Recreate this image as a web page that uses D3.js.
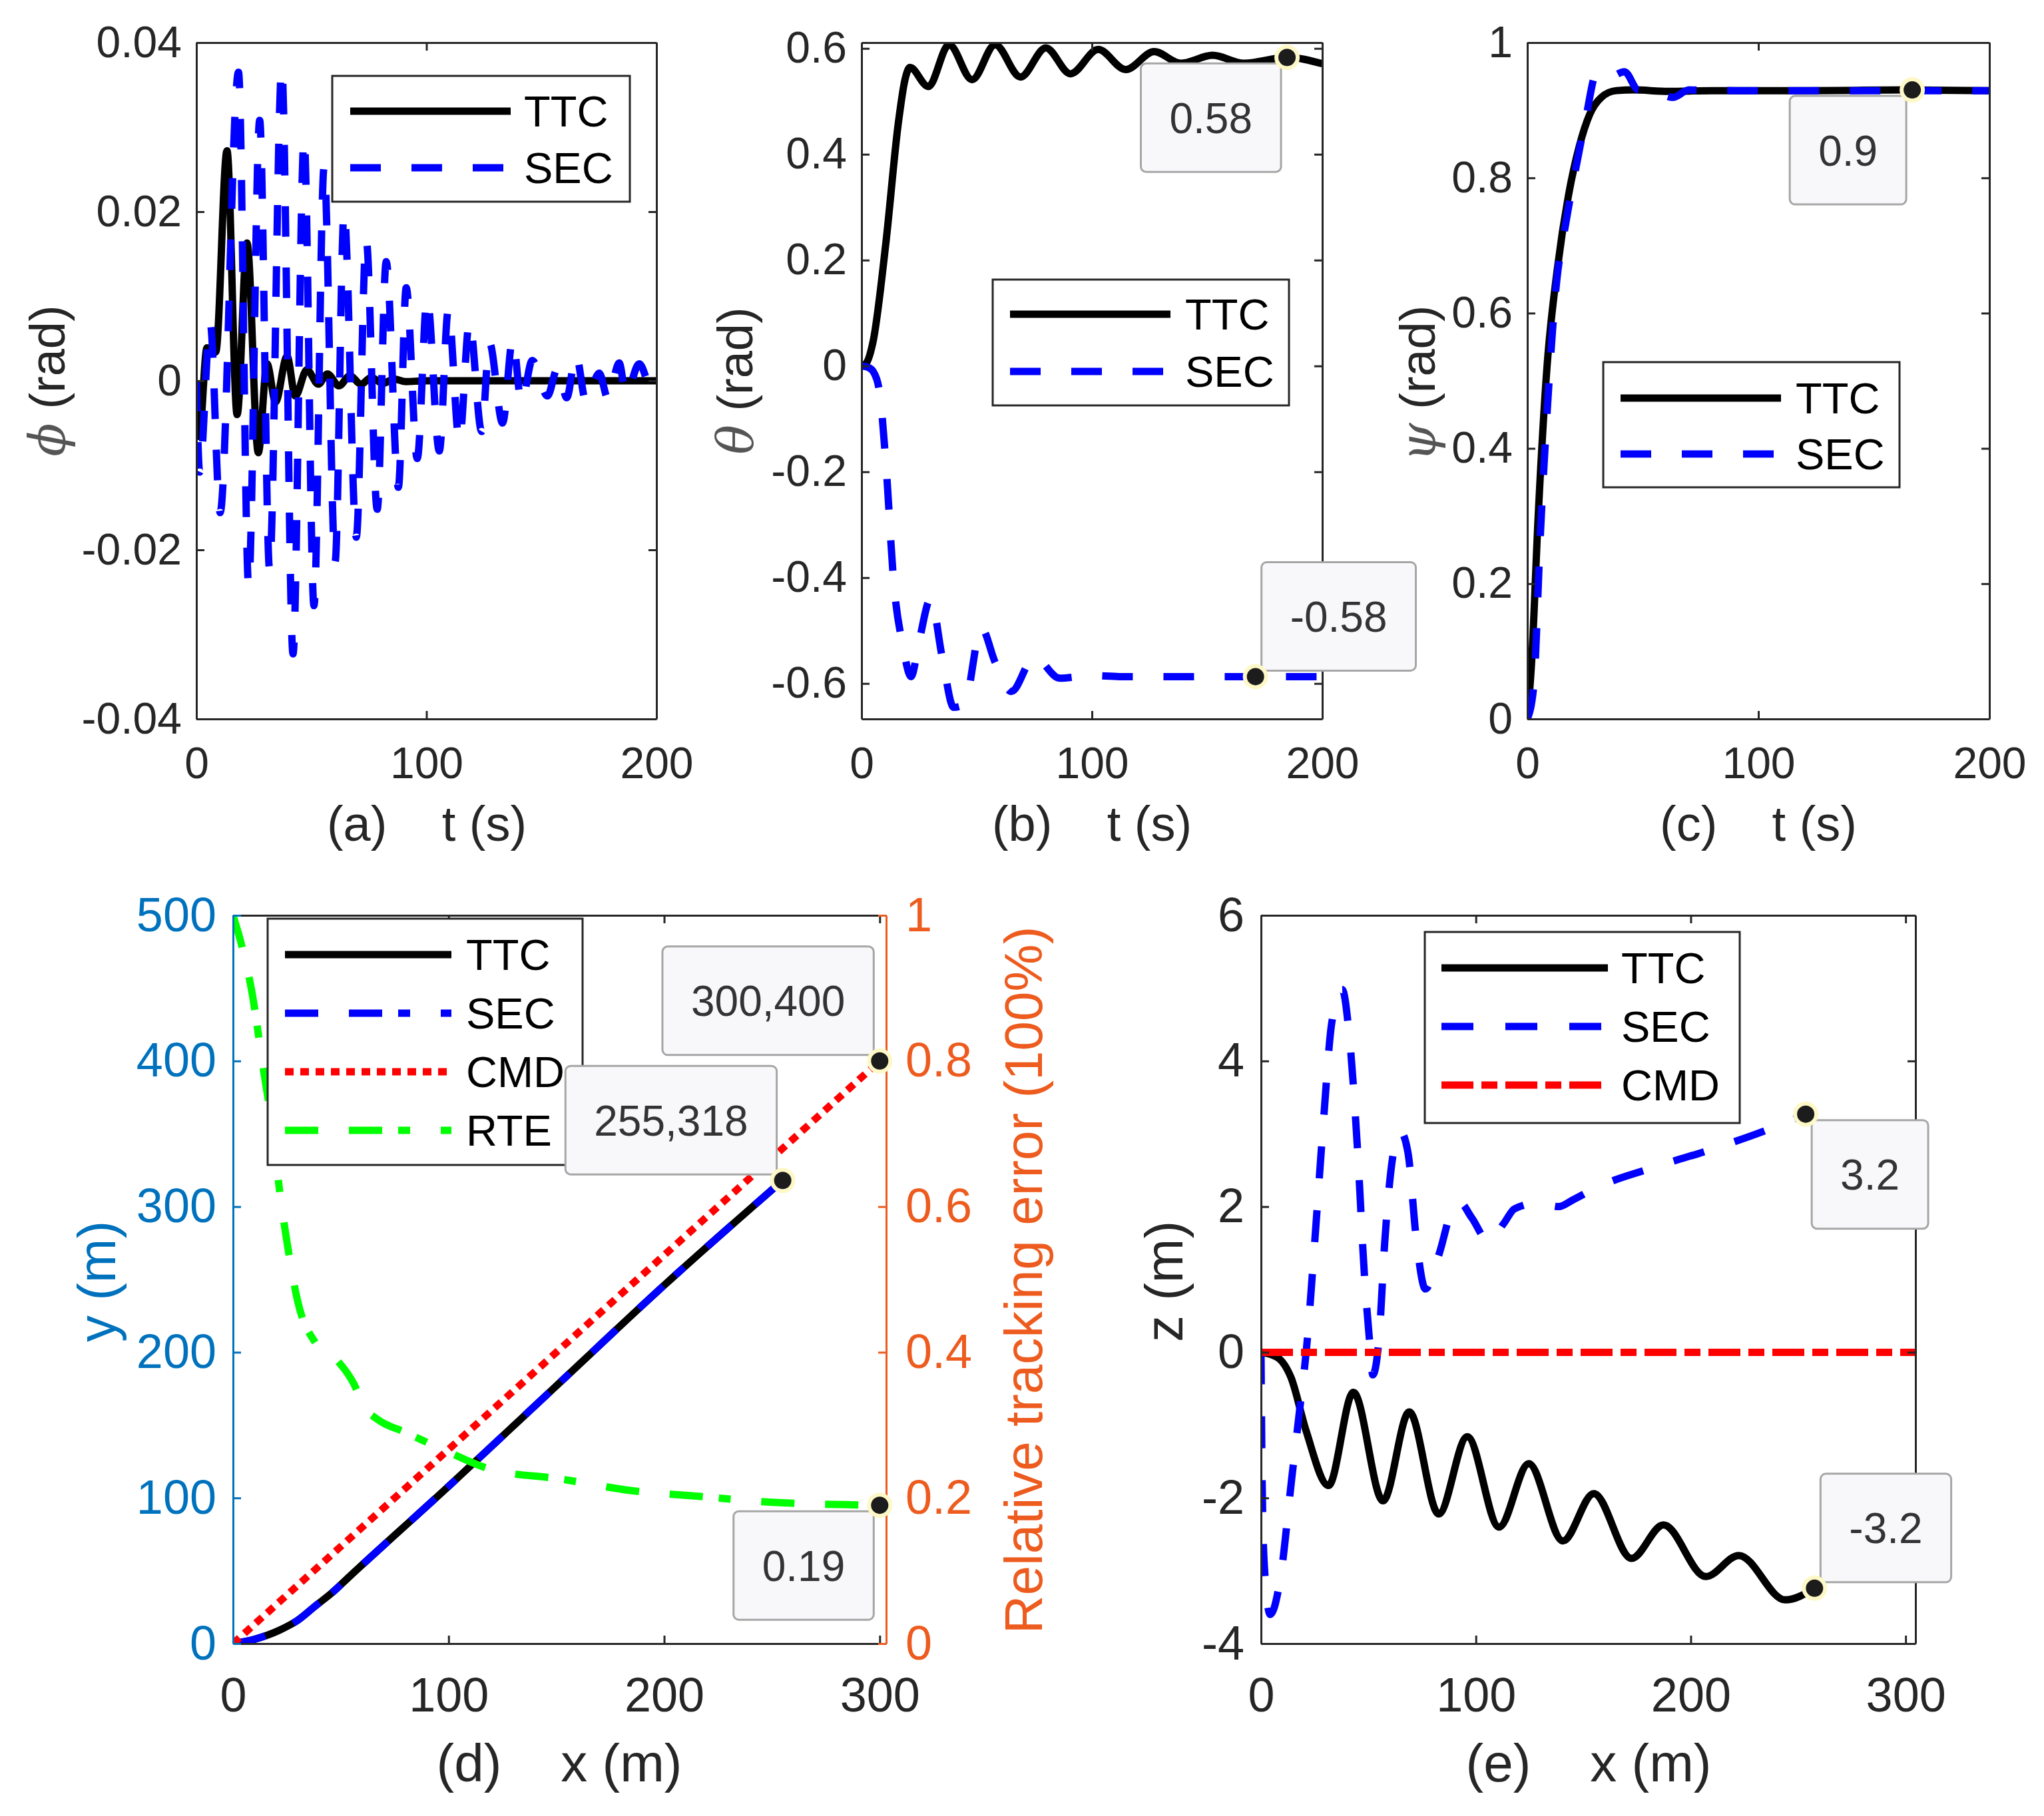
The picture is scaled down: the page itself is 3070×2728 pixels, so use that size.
<!DOCTYPE html>
<html>
<head>
<meta charset="utf-8">
<script src="https://cdn.jsdelivr.net/npm/d3@7"></script>
<style>
  body { margin: 0; background: #fff; }
  svg { display: block; background: #fff; }
</style>
</head>
<body>
<svg id="chart" width="3070" height="2728"></svg>
<script>
// ---------- data ----------
// (a) roll angle phi vs t
const tA_ttc = [0,1.2,4.6,8.4,13.3,17.7,22,26.9,30.7,34.4,39.4,43,48,53,57,62,66.7,71.6,76,81,86,91,100,200];
const phiTTC = [0,-0.0066,0.0039,0.0034,0.0272,-0.004,0.0163,-0.0085,0.002,-0.0025,0.0029,-0.0018,0.0013,-0.0004,0.0008,-0.0006,0.0006,-0.0004,0.0004,-0.0003,0.0002,-0.0001,0,0];
const tA_sec = [0,1.4,6,10.3,18.3,22.7,27.5,31.8,37.1,42,46.8,51.1,55.5,60.3,64.2,69.5,73.8,78.6,82.5,87.8,91.2,96,100.3,105.6,109.5,114.3,118.7,124,127.4,133.1,137.5,141.3,146,152.6,157,161,165,169.3,175.1,178.9,183.8,186.7,192.5,198.3,200];
const phiSEC = [0,-0.0108,0.0068,-0.0156,0.0365,-0.0242,0.0308,-0.0223,0.037,-0.0323,0.0287,-0.0266,0.0253,-0.0214,0.020,-0.0185,0.0167,-0.0152,0.0141,-0.0126,0.011,-0.0092,0.0098,-0.0083,0.0084,-0.0071,0.007,-0.006,0.0045,-0.005,0.0049,-0.0026,0.0024,-0.0018,0.0015,-0.002,0.0031,-0.0024,0.0009,-0.0021,0.0021,-0.0016,0.002,-0.0013,0];

// (b) pitch angle theta vs t
const tB_ttc = [0,2,5,10.5,16,18.8,21,29,38,48,58,69,80,90.7,102.7,114.7,127,138.6,152.4,166,184.7,200];
const thetaTTC = [0,0.005,0.046,0.23,0.46,0.54,0.564,0.528,0.607,0.541,0.607,0.546,0.601,0.552,0.598,0.56,0.594,0.572,0.587,0.572,0.583,0.571];
const tB_sec = [0,3,5,7.7,10.5,14,18,21.5,25,30,35,40,44.6,52,58,65,75,86,100,112,150,171,200];
const thetaSEC = [0,-0.003,-0.01,-0.046,-0.18,-0.41,-0.53,-0.587,-0.52,-0.44,-0.55,-0.645,-0.64,-0.495,-0.56,-0.615,-0.55,-0.59,-0.585,-0.587,-0.587,-0.587,-0.587];

// (c) yaw angle psi vs t
const tC_ttc = [0,1.9,4.7,8.5,13,17.8,22.5,27,32,38.5,46,61,80,120,166.6,200];
const psiTTC = [0,0.087,0.30,0.52,0.666,0.774,0.847,0.894,0.919,0.929,0.930,0.928,0.929,0.929,0.930,0.929];
const tC_sec = [0,2.8,5.6,8.5,12.2,16.9,21.6,25.4,30,36,42,48,55,63,70,90,200];
const psiSEC = [0,0.05,0.27,0.45,0.63,0.738,0.825,0.89,0.955,0.95,0.957,0.93,0.928,0.919,0.93,0.929,0.929];

// (d) y vs x, plus relative tracking error on the right axis
const xD_ttc = [0,10,21.8,30,38,46,54,100,150,200,255];
const yD_ttc = [0,3,9.4,16,25.6,35,46,108,177,246,318];
const xD_sec = [0,10,21.8,30,38,46,54,100,150,200,255];
const yD_sec = [0,3,9.4,16,25.6,35,46,108,177,246,318];
const xD_cmd = [0,300];
const yD_cmd = [0,400];
const xD_rte = [0,3.9,8.8,13.7,18.6,21.8,25,30,38,48,56,61,67,80,97,120,152,185,217,250,300];
const rte    = [1.0,0.96,0.894,0.796,0.70,0.617,0.552,0.47,0.414,0.39,0.357,0.324,0.308,0.29,0.267,0.239,0.226,0.21,0.202,0.194,0.19];

// (e) z vs x
const xE_ttc = [0,7.6,14,21,31.4,43,56.8,69,82.7,96,110.8,124.6,140.5,154.9,172.4,187.3,207,222.4,244,257.6];
const zTTC   = [0,-0.07,-0.35,-1.08,-1.83,-0.55,-2.04,-0.82,-2.22,-1.16,-2.40,-1.53,-2.59,-1.94,-2.83,-2.37,-3.08,-2.79,-3.40,-3.24];
const xE_sec = [0,0.5,1.6,4.3,8.9,14.3,18.4,21,25,29,33,37.8,41,45,48,50.8,52,55,57.6,61.6,64.9,68.4,72.4,76.5,83,88.6,92.7,98,106,113,118,129,138.6,145,156,183,210,237,253.5];
const zSEC   = [0,-1.73,-2.96,-3.6,-3.12,-1.73,-0.68,0,1.52,3.15,4.54,4.98,4.37,2.74,1.12,0.06,-0.31,0.22,1.52,2.74,3.03,2.74,1.52,0.87,1.36,1.93,2.05,1.85,1.52,1.77,1.97,2.05,2.0,2.09,2.26,2.54,2.79,3.07,3.27];
const xE_cmd = [0,304.6];
const zCMD   = [0,0];

// ticks
const tTicks = [0,100,200];
const phiTicks = [-0.04,-0.02,0,0.02,0.04];
const thetaTicks = [-0.6,-0.4,-0.2,0,0.2,0.4,0.6];
const psiTicks = [0,0.2,0.4,0.6,0.8,1];
const xmTicks = [0,100,200,300];
const yTicks = [0,100,200,300,400,500];
const rteTicks = [0,0.2,0.4,0.6,0.8,1];
const zTicks = [-4,-2,0,2,4,6];

// data tips: [x, y, label]
const tipsB = [[184.7,0.583,"0.58"],[171,-0.587,"-0.58"]];
const tipsC = [[166.6,0.930,"0.9"]];
const tipsD = [[300,400,"300,400"],[255,318,"255,318"]];
const tipsDR = [[300,0.19,"0.19"]];
const tipsE = [[253.5,3.27,"3.2"],[257.6,-3.24,"-3.2"]];

// ---------- styling ----------
const FONT = 'Arial, "Liberation Sans", Helvetica, sans-serif';
const INK = "#262626";
const BLUE_AX = "#0072BD";
const ORANGE_AX = "#ED5B1E";
const LW = 11;

const svg = d3.select("#chart");

function makePanel(p) {
  const w = p.right - p.left, h = p.bottom - p.top;
  const g = svg.append("g").attr("transform", `translate(${p.left},${p.top})`);
  const x = d3.scaleLinear().domain(p.xDomain).range([0, w]);
  const y = d3.scaleLinear().domain(p.yDomain).range([h, 0]);
  g.append("clipPath").attr("id", "clip-" + p.name)
    .append("rect").attr("width", w).attr("height", h);
  const plot = g.append("g").attr("clip-path", `url(#clip-${p.name})`);
  return { g, plot, x, y, w, h, p };
}

function styleAxis(sel, color, size) {
  sel.attr("font-family", FONT).attr("font-size", size).style("color", color);
  sel.select(".domain").attr("stroke-width", 3);
  sel.selectAll(".tick line").attr("stroke-width", 3);
  return sel;
}

function drawAxes(P, o) {
  const { g, x, y, w, h } = P;
  const fmt = d => String(d);
  const tl = 12;
  styleAxis(g.append("g").attr("transform", `translate(0,${h})`)
    .call(d3.axisBottom(x).tickValues(o.xTicks).tickFormat(fmt).tickSizeInner(-tl).tickSizeOuter(0).tickPadding(o.padB)), INK, o.tick);
  styleAxis(g.append("g")
    .call(d3.axisTop(x).tickValues(o.xTicks).tickFormat("").tickSizeInner(-tl).tickSizeOuter(0)), INK, o.tick);
  styleAxis(g.append("g")
    .call(d3.axisLeft(y).tickValues(o.yTicks).tickFormat(fmt).tickSizeInner(-tl).tickSizeOuter(0).tickPadding(o.padL)), o.leftColor || INK, o.tick);
  if (o.yRight) {
    styleAxis(g.append("g").attr("transform", `translate(${w},0)`)
      .call(d3.axisRight(o.yRight).tickValues(o.rTicks).tickFormat(fmt).tickSizeInner(-tl).tickSizeOuter(0).tickPadding(o.padR)), o.rightColor, o.tick);
  } else {
    styleAxis(g.append("g").attr("transform", `translate(${w},0)`)
      .call(d3.axisRight(y).tickValues(o.yTicks).tickFormat("").tickSizeInner(-tl).tickSizeOuter(0)), INK, o.tick);
  }
}

function series(P, xs, ys, color, dash, yScale, curve) {
  const ys2 = yScale || P.y;
  const line = d3.line()
    .x(d => P.x(d[0])).y(d => ys2(d[1]))
    .curve(curve || d3.curveMonotoneX);
  P.plot.append("path")
    .datum(d3.zip(xs, ys))
    .attr("d", line)
    .attr("fill", "none")
    .attr("stroke", color)
    .attr("stroke-width", LW)
    .attr("stroke-dasharray", dash || null)
    .attr("stroke-linejoin", "round");
}

function xLabel(cx, baseline, text, size) {
  svg.append("text").attr("x", cx).attr("y", baseline)
    .attr("text-anchor", "middle").attr("font-family", FONT).attr("font-size", size)
    .attr("fill", INK).style("white-space", "pre").text(text);
}

function yLabel(cx, cy, greek, rest, size, color) {
  const t = svg.append("text")
    .attr("transform", `translate(${cx},${cy}) rotate(-90)`)
    .attr("text-anchor", "middle").attr("dy", "0.33em")
    .attr("font-family", FONT).attr("font-size", size).attr("fill", color || INK)
    .style("white-space", "pre");
  if (greek) t.append("tspan").attr("font-family", '"DejaVu Serif", serif').attr("font-style", "italic").attr("fill", "#555").text(greek);
  t.append("tspan").text(rest);
}

function legend(L, items) {
  const g = svg.append("g").attr("transform", `translate(${L.x},${L.y})`);
  g.append("rect").attr("width", L.w).attr("height", L.h)
    .attr("fill", "#fff").attr("stroke", INK).attr("stroke-width", 3);
  items.forEach((it, i) => {
    const yy = L.row0 + i * L.step;
    g.append("line").attr("x1", L.l0).attr("x2", L.l1).attr("y1", yy).attr("y2", yy)
      .attr("stroke", it.color).attr("stroke-width", LW).attr("stroke-dasharray", it.dash || null);
    g.append("text").attr("x", L.tx).attr("y", yy).attr("dy", "0.36em")
      .attr("font-family", FONT).attr("font-size", 65).attr("fill", "#000").text(it.name);
  });
}

function dataTip(P, tip, yScale, place) {
  const ys = yScale || P.y;
  const mx = P.p.left + P.x(tip[0]);
  const my = P.p.top + ys(tip[1]);
  const g = svg.append("g");
  const rect = g.append("rect");
  const txt = g.append("text").text(tip[2])
    .attr("font-family", FONT).attr("font-size", 64).attr("fill", "#333")
    .attr("text-anchor", "middle").attr("dy", "0.36em");
  const tw = txt.node().getComputedTextLength();
  const bw = tw + 86, bh = 163, gap = 9;
  const bx = place[0] === "L" ? mx - gap - bw : mx + gap;
  const by = place[1] === "U" ? my - gap - bh : my + gap;
  rect.attr("x", bx).attr("y", by).attr("width", bw).attr("height", bh)
    .attr("rx", 8).attr("fill", "#f8f8fb").attr("stroke", "#a6a6a6").attr("stroke-width", 3);
  txt.attr("x", bx + bw / 2).attr("y", by + bh / 2);
  svg.append("circle").attr("cx", mx).attr("cy", my).attr("r", 16)
    .attr("fill", "#1c1c1c").attr("stroke", "#fdf8c6").attr("stroke-width", 6);
}

const dashSEC = "46,46";
const dashDD = "50,46,50,24,18,46";
const dotCMD = "13,10";
const dashCMDe = "48,12,24,12";

const topAx = { tick: 66, padB: 42, padL: 22, xTicks: tTicks };
const botAx = { tick: 72, padB: 51, padL: 25, padR: 29, xTicks: xmTicks };
const GAP = "\u00A0\u00A0\u00A0 ";

// ---------- (a) ----------
const A = makePanel({ name: "a", left: 295, top: 64, right: 986, bottom: 1080, xDomain: [0, 200], yDomain: [-0.04, 0.04] });
series(A, tA_ttc, phiTTC, "#000");
series(A, tA_sec, phiSEC, "#0000FF", dashSEC);
drawAxes(A, { ...topAx, yTicks: phiTicks });
xLabel(641, 1263, "(a)" + GAP + "t (s)", 74);
yLabel(73, 572, "\u03D5", " (rad)", 74);
legend({ x: 499, y: 114, w: 447, h: 189, row0: 53, step: 85, l0: 27, l1: 268, tx: 288 },
  [{ name: "TTC", color: "#000" }, { name: "SEC", color: "#0000FF", dash: dashSEC }]);

// ---------- (b) ----------
const B = makePanel({ name: "b", left: 1294, top: 64, right: 1986, bottom: 1080, xDomain: [0, 200], yDomain: [-0.667, 0.611] });
series(B, tB_ttc, thetaTTC, "#000");
series(B, tB_sec, thetaSEC, "#0000FF", dashSEC);
drawAxes(B, { ...topAx, yTicks: thetaTicks });
xLabel(1640, 1263, "(b)" + GAP + "t (s)", 74);
yLabel(1106, 572, "\u03B8", " (rad)", 74);
legend({ x: 1491, y: 420, w: 445, h: 189, row0: 52, step: 86, l0: 26, l1: 267, tx: 289 },
  [{ name: "TTC", color: "#000" }, { name: "SEC", color: "#0000FF", dash: dashSEC }]);

// ---------- (c) ----------
const C = makePanel({ name: "c", left: 2294, top: 64, right: 2988, bottom: 1080, xDomain: [0, 200], yDomain: [0, 1] });
series(C, tC_ttc, psiTTC, "#000");
series(C, tC_sec, psiSEC, "#0000FF", dashSEC);
drawAxes(C, { ...topAx, yTicks: psiTicks });
xLabel(2641, 1263, "(c)" + GAP + "t (s)", 74);
yLabel(2131, 576, "\u03C8", " (rad)", 74);
legend({ x: 2408, y: 544, w: 445, h: 188, row0: 54, step: 84, l0: 26, l1: 267, tx: 289 },
  [{ name: "TTC", color: "#000" }, { name: "SEC", color: "#0000FF", dash: dashSEC }]);

// ---------- (d) ----------
const D = makePanel({ name: "d", left: 350, top: 1375, right: 1331, bottom: 2469, xDomain: [0, 303], yDomain: [0, 500] });
const yR = d3.scaleLinear().domain([0, 1]).range([D.h, 0]);
series(D, xD_ttc, yD_ttc, "#000");
series(D, xD_sec, yD_sec, "#0000FF", dashDD);
series(D, xD_cmd, yD_cmd, "#FF0000", dotCMD, null, d3.curveLinear);
series(D, xD_rte, rte, "#00FF00", dashDD, yR);
drawAxes(D, { ...botAx, yTicks: yTicks, leftColor: BLUE_AX, yRight: yR, rTicks: rteTicks, rightColor: ORANGE_AX });
xLabel(840, 2676, "(d)" + GAP + "x (m)", 80);
yLabel(147, 1925, null, "y (m)", 80, BLUE_AX);
yLabel(1539, 1923, null, "Relative tracking error (100%)", 80, ORANGE_AX);
legend({ x: 402, y: 1380, w: 473, h: 370, row0: 54, step: 88, l0: 26, l1: 276, tx: 298 },
  [{ name: "TTC", color: "#000" }, { name: "SEC", color: "#0000FF", dash: dashDD },
   { name: "CMD", color: "#FF0000", dash: dotCMD }, { name: "RTE", color: "#00FF00", dash: dashDD }]);

// ---------- (e) ----------
const E = makePanel({ name: "e", left: 1894, top: 1375, right: 2877, bottom: 2469, xDomain: [0, 304.6], yDomain: [-4, 6] });
series(E, xE_ttc, zTTC, "#000");
series(E, xE_sec, zSEC, "#0000FF", "48,48");
series(E, xE_cmd, zCMD, "#FF0000", dashCMDe, null, d3.curveLinear);
drawAxes(E, { ...botAx, yTicks: zTicks });
xLabel(2386, 2676, "(e)" + GAP + "x (m)", 80);
yLabel(1750, 1925, null, "z (m)", 80);
legend({ x: 2140, y: 1400, w: 473, h: 287, row0: 54, step: 88, l0: 25, l1: 275, tx: 295 },
  [{ name: "TTC", color: "#000" }, { name: "SEC", color: "#0000FF", dash: "48,48" },
   { name: "CMD", color: "#FF0000", dash: dashCMDe }]);

// ---------- data tips (drawn last, above legends) ----------
dataTip(B, tipsB[0], null, "LD");
dataTip(B, tipsB[1], null, "RU");
dataTip(C, tipsC[0], null, "LD");
dataTip(D, tipsD[0], null, "LU");
dataTip(D, tipsD[1], null, "LU");
dataTip(D, tipsDR[0], yR, "LD");
dataTip(E, tipsE[0], null, "RD");
dataTip(E, tipsE[1], null, "RU");
</script>
</body>
</html>
